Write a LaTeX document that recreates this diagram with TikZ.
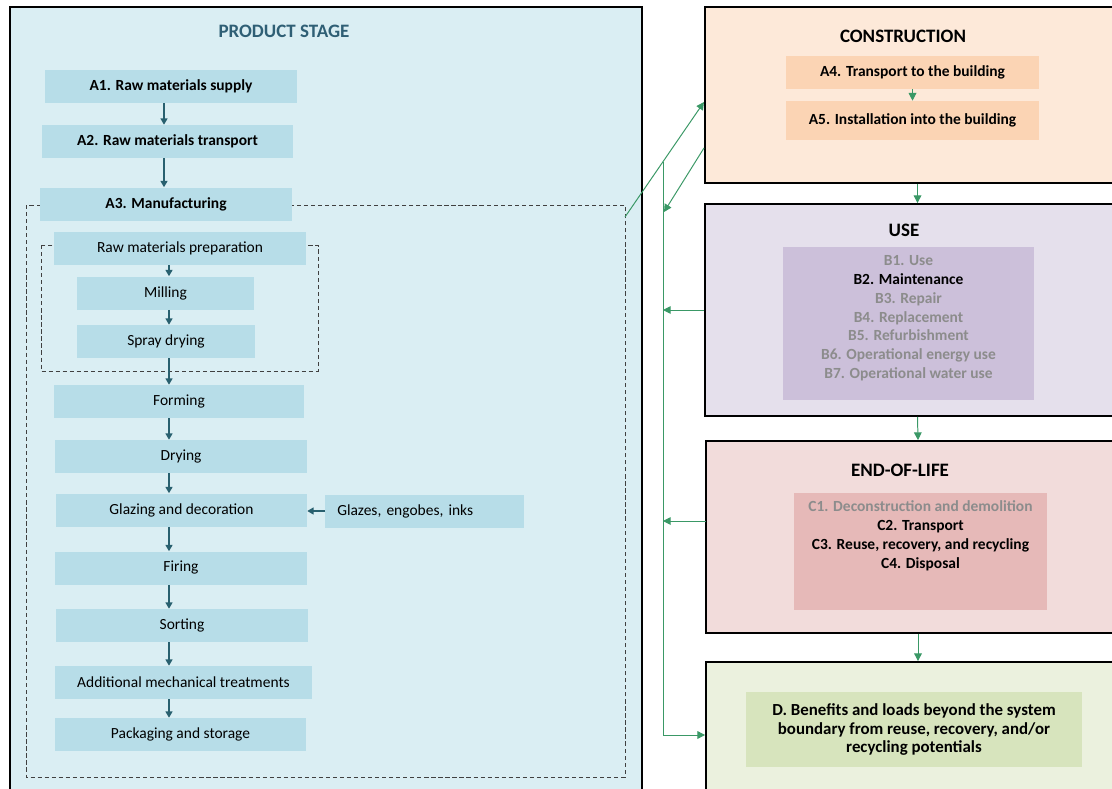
\documentclass[tikz,border=0pt]{standalone}
\usepackage{fontspec}
\setmainfont{Carlito}
\usepackage{xcolor}
\usetikzlibrary{calc}
\usetikzlibrary{positioning}
\usetikzlibrary{arrows.meta}

\definecolor{prodbg}{HTML}{DAEEF3}
\definecolor{prodbox}{HTML}{B7DDE8}
\definecolor{prodtitle}{HTML}{2F5F75}
\definecolor{prodarrow}{HTML}{28606F}
\definecolor{lcagreen}{HTML}{3A9866}
\definecolor{consbg}{HTML}{FDE9D9}
\definecolor{consbox}{HTML}{FBD4B4}
\definecolor{usebg}{HTML}{E5E0EC}
\definecolor{usebox}{HTML}{CCC0DA}
\definecolor{eolbg}{HTML}{F2DCDB}
\definecolor{eolbox}{HTML}{E6B9B8}
\definecolor{dbg}{HTML}{EBF1DE}
\definecolor{dbox}{HTML}{D7E4BD}
\definecolor{greytext}{HTML}{8C8C8C}

\newcommand{\lcastepfont}{\fontsize{11}{13}\selectfont}
\newcommand{\lcatitlefont}{\bfseries\fontsize{13.5}{16}\selectfont}

\tikzset{
  stepbox/.style 2 args={fill=prodbox, inner sep=0pt, minimum width=#1*0.025cm, minimum height=#2*0.025cm, font=\lcastepfont},
  stagebox/.style={draw, line width=1.3pt, inner sep=0pt},
  boundary/.style={draw=black!75, line width=0.5pt, dash pattern=on 3pt off 2pt},
  flow/.style={draw=prodarrow, line width=0.9pt, -{Triangle[length=4.5pt,width=5pt]}},
  lcaflow/.style={draw=lcagreen, line width=0.7pt, -{Triangle[length=5.5pt,width=5.5pt]}},
}

\begin{document}
\begin{tikzpicture}[x=0.025cm, y=-0.025cm]
\useasboundingbox (0,0) rectangle (1112,789);

% product stage
\draw[fill=prodbg, line width=1.3pt] (10,7) rectangle (642,800);
\node[font=\lcatitlefont, text=prodtitle] (prodtitle) at (284,31) {PRODUCT STAGE};
\draw[boundary] (26,205) rectangle (625,777);
\draw[boundary] (41,245) rectangle (318,371);

\foreach \x/\y/\w/\alph/\name in {
		171/86.5/252/a1/A1. Raw materials supply,
		167.5/141.5/251/a2/A2. Raw materials transport,
		166/204/252/a3/A3. Manufacturing
}{
	\node[stepbox={\w}{33}, font=\bfseries\lcastepfont] (\alph) at (\x,\y) {\name};
}
\foreach \x/\y/\w/\alph/\name in {
		180/248.5/252/prep/Raw materials preparation,
		165.5/293/177/mill/Milling,
		166/341.5/178/spray/Spray drying,
		179/401.5/250/form/Forming,
		181/456.5/252/dry/Drying,
		181.5/510/251/glaze/Glazing and decoration,
		181/568/252/fire/Firing,
		182/625.5/252/sort/Sorting,
		183.5/682.5/257/mech/Additional mechanical treatments,
		180.5/734.5/251/pack/Packaging and storage
}{
	\node[stepbox={\w}{33}] (\alph) at (\x,\y) {\name};
}
\node[stepbox={199}{33}, anchor=west, text width=175*0.025cm, inner xsep=12*0.025cm, align=left] (inks) at (325,511) {Glazes, engobes, inks};

\coordinate (spinetop) at (164,0);
\coordinate (spine) at (169,0);
\foreach \alpha/\alphb in {a1/a2, a2/a3}
{
	\draw[flow] (\alpha.south -| spinetop) -- (\alphb.north -| spinetop);
}
\foreach \alpha/\alphb in {prep/mill, mill/spray, spray/form, form/dry, dry/glaze, glaze/fire, fire/sort, sort/mech, mech/pack}
{
	\draw[flow] (\alpha.south -| spine) -- (\alphb.north -| spine);
}
\draw[flow] (inks.west) -- (inks.west -| glaze.east);

% other stages
\node[stagebox, fill=consbg, minimum width=425*0.025cm, minimum height=176*0.025cm] (cons) at (917.5,95) {};
\node[stagebox, fill=usebg, minimum width=425*0.025cm, minimum height=212*0.025cm] (use) at (917.5,310) {};
\node[stagebox, fill=eolbg, minimum width=424*0.025cm, minimum height=192*0.025cm] (eol) at (918,537) {};
\node[stagebox, fill=dbg, minimum width=424*0.025cm, minimum height=148*0.025cm] (dstage) at (918,736) {};

\node[font=\lcatitlefont] (constitle) at (903,36) {CONSTRUCTION};
\node[font=\lcatitlefont] (usetitle) at (904,230) {USE};
\node[font=\lcatitlefont] (eoltitle) at (900,470) {END-OF-LIFE};

\node[fill=consbox, inner sep=0pt, minimum width=253*0.025cm, minimum height=33*0.025cm, font=\bfseries\lcastepfont] (a4) at (912.5,72.5) {A4. Transport to the building};
\node[fill=consbox, inner sep=0pt, minimum width=253*0.025cm, minimum height=39*0.025cm, font=\bfseries\lcastepfont] (a5) at (912.5,120.5) {A5. Installation into the building};

\node[fill=usebox, inner sep=0pt, minimum width=251*0.025cm, minimum height=153*0.025cm] (usebox) at (908.5,323.5) {};
\node[below=0.2cm of usebox.north, inner sep=0pt, align=center, text=greytext, font=\bfseries\fontsize{11}{13.5}\selectfont] (usetext) {B1. Use\\ \textcolor{black}{B2. Maintenance}\\ B3. Repair\\ B4. Replacement\\ B5. Refurbishment\\ B6. Operational energy use\\ B7. Operational water use};

\node[fill=eolbox, inner sep=0pt, minimum width=253*0.025cm, minimum height=117*0.025cm] (eolbox) at (920.5,551.5) {};
\node[below=0.2cm of eolbox.north, inner sep=0pt, align=center, font=\bfseries\fontsize{11}{13.5}\selectfont] (eoltext) {\textcolor{greytext}{C1. Deconstruction and demolition}\\ C2. Transport\\ C3. Reuse, recovery, and recycling\\ C4. Disposal};

\node[fill=dbox, inner sep=0pt, minimum width=336*0.025cm, minimum height=75*0.025cm, align=center, font=\bfseries\fontsize{12}{13.5}\selectfont] (dbox) at (914,729.5) {D. Benefits and loads beyond the system\\ boundary from reuse, recovery, and/or\\ recycling potentials};

% connectors
\draw[lcaflow] (a4.south) -- (a5.north);
\draw[lcaflow] (cons.south) -- (use.north);
\draw[lcaflow] (use.south) -- (eol.north);
\draw[lcaflow] (eol.south) -- (dstage.north);

\coordinate (mfgout) at (625,217);
\coordinate (consin) at (704,102);
\coordinate (consout) at (704,148);
\coordinate (backin) at (664,212);
\coordinate (trunktop) at (663,162);
\coordinate (trunkbot) at (663,735);
\coordinate (eolout) at (706,521);
\draw[lcaflow] (mfgout) -- (consin);
\draw[draw=lcagreen, line width=0.7pt] (trunktop) -- (trunkbot);
\draw[lcaflow] (consout) -- (backin);
\draw[lcaflow] (use.west) -- (use.west -| trunktop);
\draw[lcaflow] (eolout) -- (eolout -| trunktop);
\draw[lcaflow] (trunkbot) -- (trunkbot -| dstage.west);
\end{tikzpicture}
\end{document}
